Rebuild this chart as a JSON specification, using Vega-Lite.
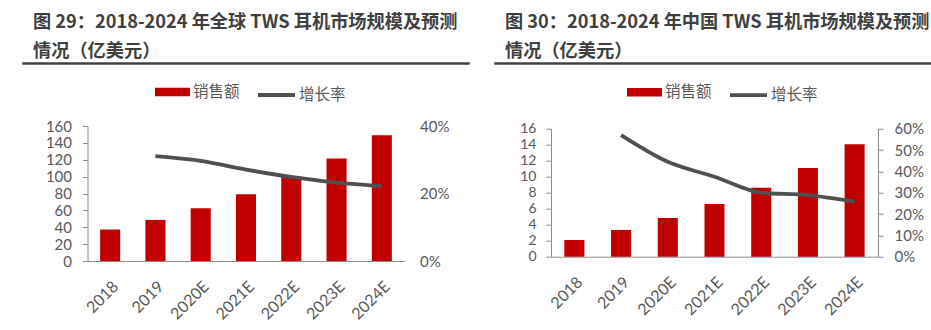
{
  "$schema": "https://vega.github.io/schema/vega-lite/v6.json",
  "padding": {"left": 22, "top": 12, "right": 0, "bottom": 0},
  "config": {
    "view": {"stroke": null},
    "font": "Lato",
    "axis": {"labelFont": "Lato", "labelFontSize": 15, "labelColor": "#595959", "domainColor": "#8c8c8c", "tickColor": "#8c8c8c", "grid": false},
    "legend": {"labelFont": "Noto Sans CJK SC", "labelFontSize": 15.5, "labelColor": "#595959"},
    "title": {"font": "Noto Sans CJK SC", "fontSize": 18.2, "fontWeight": "bold", "color": "#404040", "anchor": "start", "lineHeight": 29}
  },
  "spacing": 24,
  "bounds": "full",
  "resolve": {"scale": {"fill": "independent", "stroke": "independent"}, "legend": {"fill": "independent", "stroke": "independent"}},
  "hconcat": [
    {
      "spacing": 62,
      "center": true,
      "bounds": "flush",
      "resolve": {"scale": {"fill": "independent", "stroke": "independent"}, "legend": {"fill": "independent", "stroke": "independent"}},
      "vconcat": [
        {
          "title": {"text": ["图 29：2018-2024 年全球 TWS 耳机市场规模及预测", "情况（亿美元）"], "dx": 10, "offset": 2},
          "width": 446,
          "height": 1,
          "view": {"stroke": "#404040", "strokeWidth": 1.5, "fill": null},
          "data": {"values": []},
          "mark": {"type": "rule"},
          "encoding": {}
        },
        {
          "width": 317,
          "height": 135,
          "data": {"values": [
            {"year": "2018", "sales": 37.3, "growth": null},
            {"year": "2019", "sales": 48.7, "growth": 0.311},
            {"year": "2020E", "sales": 62.6, "growth": 0.297},
            {"year": "2021E", "sales": 79.2, "growth": 0.271},
            {"year": "2022E", "sales": 100.2, "growth": 0.249},
            {"year": "2023E", "sales": 121.6, "growth": 0.232},
            {"year": "2024E", "sales": 148.9, "growth": 0.222}
          ]},
          "encoding": {
            "x": {"field": "year", "type": "ordinal", "sort": null, "title": null,
              "scale": {"paddingInner": 0.557, "paddingOuter": 0.279},
              "axis": {"labelAngle": -45, "ticks": false, "labelPadding": 17, "labelFontSize": 16}}
          },
          "layer": [
            {
              "mark": {"type": "bar"},
              "encoding": {
                "y": {"field": "sales", "type": "quantitative", "title": null, "scale": {"domain": [0, 160]},
                  "axis": {"values": [0, 20, 40, 60, 80, 100, 120, 140, 160], "tickSize": 5, "labelPadding": 11}},
                "fill": {"datum": "销售额", "type": "nominal", "scale": {"range": ["#c00000"]},
                  "legend": {"orient": "none", "legendX": 67.5, "legendY": -51.5, "title": null, "symbolType": "M-1,-0.24H1V0.24H-1Z", "symbolSize": 1225, "symbolStrokeWidth": 0, "labelOffset": 3}}
              }
            },
            {
              "mark": {"type": "line", "interpolate": "monotone", "strokeWidth": 3.8},
              "encoding": {
                "y": {"field": "growth", "type": "quantitative", "title": null, "scale": {"domain": [0, 0.4]},
                  "axis": {"orient": "right", "values": [0, 0.2, 0.4], "format": ".0%", "domain": false, "ticks": false, "labelPadding": 15}},
                "stroke": {"datum": "增长率", "type": "nominal", "scale": {"range": ["#505050"]},
                  "legend": {"orient": "none", "legendX": 168.5, "legendY": -51.5, "title": null, "symbolType": "stroke", "symbolSize": 1369, "symbolStrokeWidth": 3.8, "labelOffset": 2}}
              }
            }
          ],
          "resolve": {"scale": {"y": "independent"}}
        }
      ]
    },
    {
      "spacing": 64.7,
      "center": true,
      "bounds": "flush",
      "resolve": {"scale": {"fill": "independent", "stroke": "independent"}, "legend": {"fill": "independent", "stroke": "independent"}},
      "vconcat": [
        {
          "title": {"text": ["图 30：2018-2024 年中国 TWS 耳机市场规模及预测", "情况（亿美元）"], "dx": 10, "offset": 2},
          "width": 439,
          "height": 1,
          "view": {"stroke": "#404040", "strokeWidth": 1.5, "fill": null},
          "data": {"values": []},
          "mark": {"type": "rule"},
          "encoding": {}
        },
        {
          "width": 327,
          "height": 128,
          "data": {"values": [
            {"year": "2018", "sales": 2.09, "growth": null},
            {"year": "2019", "sales": 3.34, "growth": 0.57},
            {"year": "2020E", "sales": 4.84, "growth": 0.445},
            {"year": "2021E", "sales": 6.59, "growth": 0.375},
            {"year": "2022E", "sales": 8.63, "growth": 0.30},
            {"year": "2023E", "sales": 11.09, "growth": 0.289},
            {"year": "2024E", "sales": 14.05, "growth": 0.258}
          ]},
          "encoding": {
            "x": {"field": "year", "type": "ordinal", "sort": null, "title": null,
              "scale": {"paddingInner": 0.571, "paddingOuter": 0.286},
              "axis": {"labelAngle": -45, "ticks": false, "labelPadding": 17, "labelFontSize": 16}}
          },
          "layer": [
            {
              "mark": {"type": "bar"},
              "encoding": {
                "y": {"field": "sales", "type": "quantitative", "title": null, "scale": {"domain": [0, 16]},
                  "axis": {"values": [0, 2, 4, 6, 8, 10, 12, 14, 16], "tickSize": 5, "labelPadding": 10, "labelFontSize": 14}},
                "fill": {"datum": "销售额", "type": "nominal", "scale": {"range": ["#c00000"]},
                  "legend": {"orient": "none", "legendX": 76, "legendY": -54, "title": null, "symbolType": "M-1,-0.24H1V0.24H-1Z", "symbolSize": 1225, "symbolStrokeWidth": 0, "labelOffset": 3}}
              }
            },
            {
              "mark": {"type": "line", "interpolate": "monotone", "strokeWidth": 3.8},
              "encoding": {
                "y": {"field": "growth", "type": "quantitative", "title": null, "scale": {"domain": [0, 0.6]},
                  "axis": {"orient": "right", "values": [0, 0.1, 0.2, 0.3, 0.4, 0.5, 0.6], "format": ".0%", "tickSize": 5, "labelPadding": 11}},
                "stroke": {"datum": "增长率", "type": "nominal", "scale": {"range": ["#505050"]},
                  "legend": {"orient": "none", "legendX": 177, "legendY": -54, "title": null, "symbolType": "stroke", "symbolSize": 1369, "symbolStrokeWidth": 3.8, "labelOffset": 2}}
              }
            }
          ],
          "resolve": {"scale": {"y": "independent"}}
        }
      ]
    }
  ]
}
